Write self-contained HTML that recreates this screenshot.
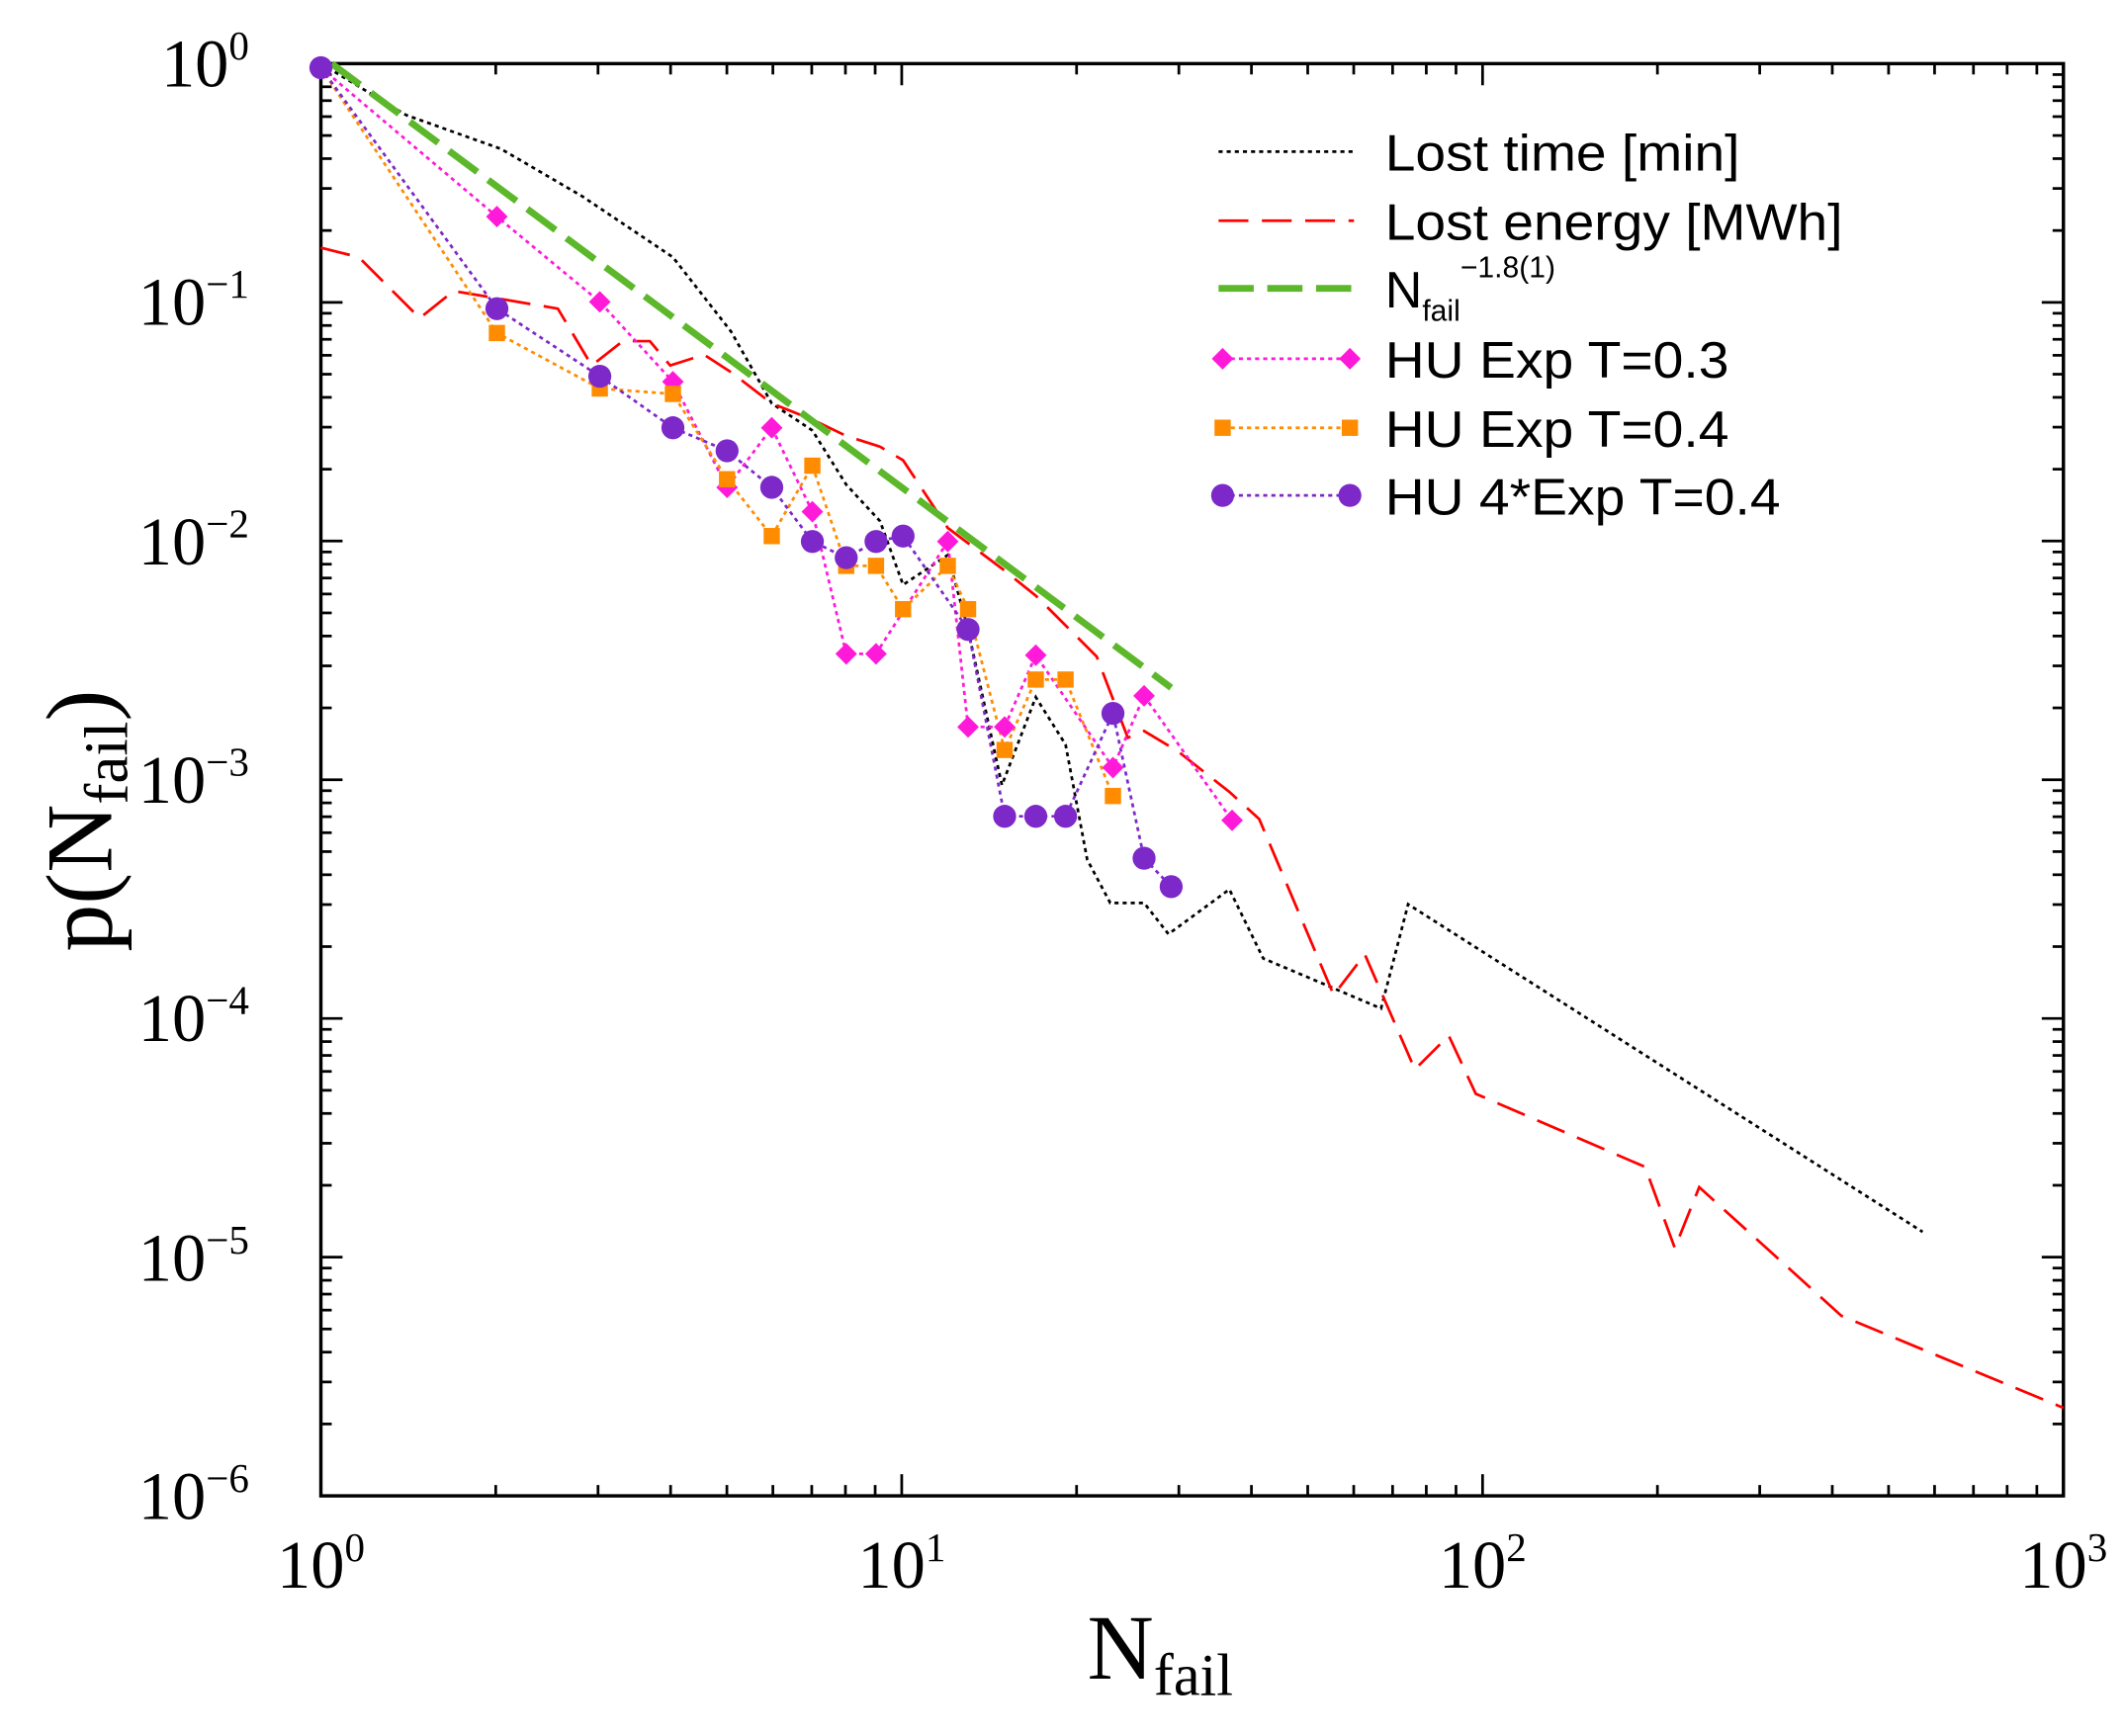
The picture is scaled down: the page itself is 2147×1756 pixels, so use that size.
<!DOCTYPE html>
<html><head><meta charset="utf-8"><style>html,body{margin:0;padding:0;background:#fff}svg{display:block}</style></head>
<body>
<svg width="2147" height="1756" viewBox="0 0 1568 1282.4" preserveAspectRatio="none" xmlns="http://www.w3.org/2000/svg">
<g id="ticks" stroke="#000" stroke-width="2" fill="none"></g>
<rect x="237" y="47" width="1287" height="1058" fill="none" stroke="#000" stroke-width="2.5"/>
<g font-family="Liberation Serif, serif" font-size="50" fill="#000">
<text x="184" y="64" text-anchor="end">10<tspan dy="-20" font-size="30">0</tspan></text>
<text x="184" y="240" text-anchor="end">10<tspan dy="-20" font-size="30">−1</tspan></text>
<text x="184" y="417" text-anchor="end">10<tspan dy="-20" font-size="30">−2</tspan></text>
<text x="184" y="593" text-anchor="end">10<tspan dy="-20" font-size="30">−3</tspan></text>
<text x="184" y="769" text-anchor="end">10<tspan dy="-20" font-size="30">−4</tspan></text>
<text x="184" y="946" text-anchor="end">10<tspan dy="-20" font-size="30">−5</tspan></text>
<text x="184" y="1122" text-anchor="end">10<tspan dy="-20" font-size="30">−6</tspan></text>
<text x="237" y="1173" text-anchor="middle">10<tspan dy="-20" font-size="30">0</tspan></text>
<text x="666" y="1173" text-anchor="middle">10<tspan dy="-20" font-size="30">1</tspan></text>
<text x="1095" y="1173" text-anchor="middle">10<tspan dy="-20" font-size="30">2</tspan></text>
<text x="1524" y="1173" text-anchor="middle">10<tspan dy="-20" font-size="30">3</tspan></text>
<text x="803" y="1240" font-size="68">N<tspan dy="12" font-size="44">fail</tspan></text>
<text transform="translate(82,703) rotate(-90)" font-size="70">p(N<tspan dy="12" font-size="46">fail</tspan><tspan dy="-12">)</tspan></text>
</g>
<polyline fill="none" stroke="#000" stroke-width="2" stroke-dasharray="3,3" points="237,47 300,85 370,110 430,145 497,190 540,245 570,298 600,318 625,358 650,385 667,432 700,410 715,465 740,580 765,515 787,550 803,635 820,667 845,667 863,690 908,657 933,708 985,730 1020,745 1040,668 1420,910"/>
<polyline fill="none" stroke="#f00" stroke-width="2" stroke-dasharray="22,10" points="237,183 265,190 310,235 335,215 365,220 412,228 437,270 460,252 480,252 495,270 520,262 540,275 570,298 600,310 625,322 650,330 667,340 700,390 740,420 765,440 790,465 810,485 833,545 845,540 870,555 908,585 930,605 985,735 1008,705 1045,790 1070,765 1090,808 1215,862 1237,922 1255,877 1360,972 1524,1040"/>
<line x1="245" y1="47" x2="865" y2="508" stroke="#5cb82a" stroke-width="5" stroke-dasharray="26,10"/>
<polyline fill="none" stroke="#ff1ad9" stroke-width="2" stroke-dasharray="3,3" points="237,50 367,160 443,223 497,282 537,360 570,316 600,378 625,483 647,483 700,400 715,537 742,537 765,484 822,567 845,514 910,606"/>
<polyline fill="none" stroke="#ff8c00" stroke-width="2" stroke-dasharray="3,3" points="237,50 367,246 443,287 497,291 537,354 570,396 600,344 625,418 647,418 667,450 700,418 715,450 742,554 765,502 787,502 822,588"/>
<polyline fill="none" stroke="#7d28c8" stroke-width="2" stroke-dasharray="3,3" points="237,50 367,228 443,278 497,316 537,333 570,360 600,400 625,412 647,400 667,396 715,465 742,603 765,603 787,603 822,527 845,634 865,655"/>
<g fill="#ff1ad9" id="dm"></g>
<g fill="#ff8c00" id="sq"></g>
<g fill="#7d28c8" id="ci"></g>
<g font-family="Liberation Sans, sans-serif" font-size="38" fill="#000">
<line x1="900" y1="112" x2="1000" y2="112" stroke="#000" stroke-width="2" stroke-dasharray="3,3"/>
<text x="1023" y="126" textLength="262" lengthAdjust="spacingAndGlyphs">Lost time [min]</text>
<line x1="900" y1="163" x2="1000" y2="163" stroke="#f00" stroke-width="2" stroke-dasharray="22,10"/>
<text x="1023" y="177" textLength="338" lengthAdjust="spacingAndGlyphs">Lost energy [MWh]</text>
<line x1="900" y1="213" x2="1000" y2="213" stroke="#5cb82a" stroke-width="5" stroke-dasharray="26,10"/>
<text x="1023" y="227">N<tspan dy="10" font-size="22">fail</tspan><tspan dy="-32" font-size="22">−1.8(1)</tspan></text>
<line x1="903" y1="265" x2="997" y2="265" stroke="#ff1ad9" stroke-width="2" stroke-dasharray="3,3"/>
<text x="1023" y="279" textLength="254" lengthAdjust="spacingAndGlyphs">HU Exp T=0.3</text>
<line x1="903" y1="316" x2="997" y2="316" stroke="#ff8c00" stroke-width="2" stroke-dasharray="3,3"/>
<text x="1023" y="330" textLength="254" lengthAdjust="spacingAndGlyphs">HU Exp T=0.4</text>
<line x1="903" y1="366" x2="997" y2="366" stroke="#7d28c8" stroke-width="2" stroke-dasharray="3,3"/>
<text x="1023" y="380" textLength="292" lengthAdjust="spacingAndGlyphs">HU 4*Exp T=0.4</text>
</g>
<script>
var NS="http://www.w3.org/2000/svg";
function el(p,t,a){var e=document.createElementNS(NS,t);for(var k in a)e.setAttribute(k,a[k]);p.appendChild(e);}
var tk=document.getElementById("ticks");
var L=237,R=1524,T=47,B=1105,dx=429,dy=176.33;
for(var d=0;d<3;d++)for(var m=1;m<10;m++){var x=L+dx*(d+Math.log10(m));var len=m==1?16:8;
el(tk,"line",{x1:x,y1:B,x2:x,y2:B-len});el(tk,"line",{x1:x,y1:T,x2:x,y2:T+len});}
for(var d=0;d<6;d++)for(var m=1;m<10;m++){var y=B-dy*(d+Math.log10(m));var len=m==1?16:8;
el(tk,"line",{x1:L,y1:y,x2:L+len,y2:y});el(tk,"line",{x1:R,y1:y,x2:R-len,y2:y});}
var dm=[[367,160],[443,223],[497,282],[537,360],[570,316],[600,378],[625,483],[647,483],[700,400],[715,537],[742,537],[765,484],[822,567],[845,514],[910,606],[903,265],[997,265]];
var g=document.getElementById("dm");dm.forEach(function(p){el(g,"polygon",{points:(p[0]-8)+","+p[1]+" "+p[0]+","+(p[1]-8)+" "+(p[0]+8)+","+p[1]+" "+p[0]+","+(p[1]+8)});});
var sq=[[367,246],[443,287],[497,291],[537,354],[570,396],[600,344],[625,418],[647,418],[667,450],[700,418],[715,450],[742,554],[765,502],[787,502],[822,588],[903,316],[997,316]];
g=document.getElementById("sq");sq.forEach(function(p){el(g,"rect",{x:p[0]-6,y:p[1]-6,width:12,height:12});});
var ci=[[237,50],[367,228],[443,278],[497,316],[537,333],[570,360],[600,400],[625,412],[647,400],[667,396],[715,465],[742,603],[765,603],[787,603],[822,527],[845,634],[865,655],[903,366],[997,366]];
g=document.getElementById("ci");ci.forEach(function(p){el(g,"circle",{cx:p[0],cy:p[1],r:8.5});});
</script>
</svg>
</body></html>
